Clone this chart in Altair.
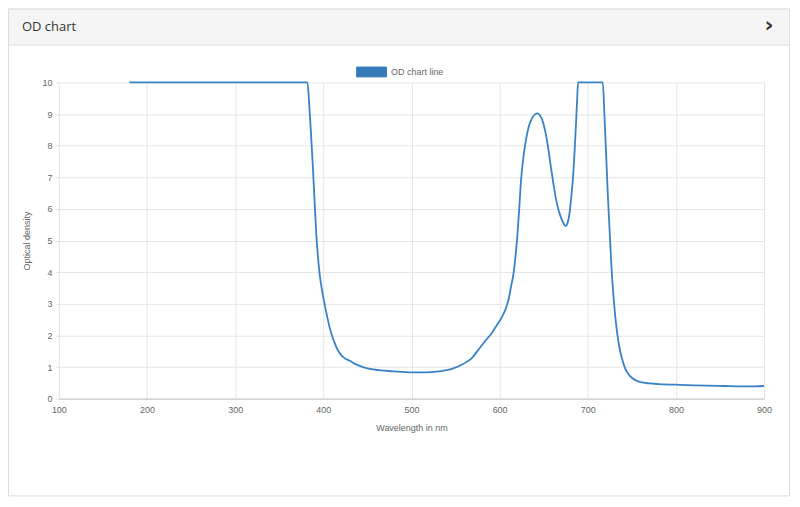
import altair as alt
import pandas as pd

# ---- data ----
wavelength = [180, 250, 320, 382, 384, 386, 388, 390, 392, 394, 396, 399, 403, 407, 412, 418,
              424, 430, 436, 442, 450, 463, 480, 500, 515, 531, 545, 557, 563, 569, 576,
              583, 591, 597, 603, 607, 610, 613, 616, 618, 620, 622, 624, 627, 630, 633,
              637, 640, 643, 646, 649, 652, 655, 658, 661, 664, 667, 670, 673, 675, 677, 679,
              681, 683, 685, 686.5, 688, 689, 700, 717, 719, 721, 723, 725, 727, 729, 731,
              733, 736, 739, 742, 746, 750, 755, 760, 770, 780, 800, 820, 836, 855, 874,
              890, 900]
od = [10, 10, 10, 10, 9.3, 8.4, 7.4, 6.3, 5.2, 4.45, 3.9, 3.35, 2.78, 2.27, 1.82, 1.46,
      1.28, 1.2, 1.1, 1.03, 0.96, 0.9, 0.86, 0.83, 0.83, 0.86, 0.93, 1.07, 1.17, 1.3, 1.55,
      1.8, 2.07, 2.33, 2.6, 2.85, 3.12, 3.55, 4.0, 4.5, 5.1, 5.9, 6.8, 7.64, 8.2, 8.6,
      8.88, 8.99, 9.02, 8.95, 8.76, 8.42, 7.95, 7.35, 6.8, 6.3, 5.95, 5.7, 5.52, 5.46, 5.55, 5.8,
      6.3, 6.9, 7.8, 8.6, 9.5, 10, 10, 10, 8.9, 7.6, 6.3, 5.2, 4.1, 3.3, 2.65,
      2.15, 1.6, 1.25, 0.98, 0.78, 0.66, 0.57, 0.52, 0.48, 0.46, 0.44, 0.42, 0.41, 0.4, 0.39,
      0.39, 0.4]
series_name = "OD chart line"
x_ticks = [100, 200, 300, 400, 500, 600, 700, 800, 900]
y_ticks = [0, 1, 2, 3, 4, 5, 6, 7, 8, 9, 10]
panel_title = "OD chart"

df = pd.DataFrame({"Wavelength": wavelength, "OD": od, "series": series_name})

FONT = "Liberation Sans"
W, H = 707, 317
one = alt.Data(values=[{}])

frame = alt.Chart(one).mark_rect(fillOpacity=0, stroke="#dddddd", strokeWidth=1).encode(
    x=alt.value(-50.5), x2=alt.value(732.5), y=alt.value(-73.5), y2=alt.value(414.5)
)
header = alt.Chart(one).mark_rect(fill="#f5f5f5", stroke="#dddddd", strokeWidth=1).encode(
    x=alt.value(-50.5), x2=alt.value(732.5), y=alt.value(-73.5), y2=alt.value(-37.5)
)
title_txt = alt.Chart(one).mark_text(
    text=panel_title, align="left", baseline="middle", font="Open Sans", fontSize=13, color="#333333"
).encode(x=alt.value(-37), y=alt.value(-56))
chevron = alt.Chart(one).mark_text(
    text="›", align="center", baseline="middle", font="DejaVu Sans", fontSize=22, fontWeight="bold",
    color="#333333"
).encode(x=alt.value(712), y=alt.value(-58))

line = alt.Chart(df).mark_line(interpolate="monotone", strokeWidth=1.8).encode(
    x=alt.X("Wavelength:Q",
            scale=alt.Scale(domain=[100, 900], nice=False, zero=False),
            axis=alt.Axis(values=x_ticks, title="Wavelength in nm", grid=True, gridColor="#e6e6e6",
                          domainColor="#c4c4c4", ticks=False, labelPadding=7, labelFlush=False,
                          labelFont=FONT, labelFontSize=9, labelColor="#666666",
                          titleFont=FONT, titleFontSize=9, titleColor="#666666",
                          titleFontWeight="normal", titlePadding=9)),
    y=alt.Y("OD:Q",
            scale=alt.Scale(domain=[0, 10], nice=False),
            axis=alt.Axis(values=y_ticks, title="Optical density", grid=True, gridColor="#e6e6e6",
                          domain=False, tickSize=3, tickColor="#dddddd", labelPadding=4,
                          labelFont=FONT, labelFontSize=9, labelColor="#666666",
                          titleFont=FONT, titleFontSize=9, titleColor="#666666",
                          titleFontWeight="normal", titlePadding=10)),
    color=alt.Color("series:N",
                    scale=alt.Scale(domain=[series_name], range=["#3a82c6"]),
                    legend=alt.Legend(title=None, orient="none", legendX=298, legendY=-26,
                                      padding=0, symbolType="M-1,-0.33H1V0.33H-1Z", symbolSize=900,
                                      symbolFillColor="#337ab7", symbolStrokeColor="#3a80c0",
                                      symbolStrokeWidth=1, labelFont=FONT, labelFontSize=9,
                                      labelColor="#666666", labelOffset=4)),
)

chart = alt.layer(frame, header, title_txt, chevron, line).properties(
    width=W, height=H,
    autosize=alt.AutoSizeParams(type="none"),
    padding={"left": 51, "top": 74, "right": 28, "bottom": 100},
    background="white",
).configure_view(strokeWidth=0)

chart.save("out.html", embed_options={"renderer": "svg", "actions": False})
